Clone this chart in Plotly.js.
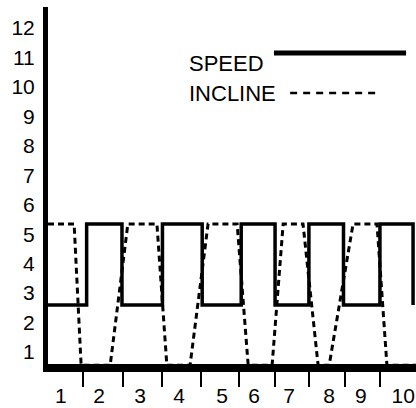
<!DOCTYPE html>
<html>
<head>
<meta charset="utf-8">
<script src="https://cdn.plot.ly/plotly-3.0.1.min.js"></script>
<style>
  html, body { margin: 0; padding: 0; background: #fff; }
  #chart { width: 416px; height: 408px; }
</style>
</head>
<body>
<div id="chart"></div>
<script>
// ---- data ----
const xLabels = ["1", "2", "3", "4", "5", "6", "7", "8", "9", "10"];
const xLabelPos = [0.85, 1.89, 3.0, 4.06, 5.23, 6.10, 7.05, 8.14, 9.0, 10.15];
const tickBounds = [1.45, 2.54, 3.60, 4.66, 5.70, 6.67, 7.59, 8.56, 9.51];
const yTicks = [1, 2, 3, 4, 5, 6, 7, 8, 9, 10, 11, 12];

// speed: step line (value holds until next x)
const speedX = [0.5, 1.55, 2.51, 3.61, 4.69, 5.75, 6.67, 7.59, 8.53, 9.52, 10.42];
const speedY = [2.6, 5.35, 2.6, 5.35, 2.6, 5.35, 2.6, 5.35, 2.6, 5.35, 2.6];

// incline: dashed line between top and bottom
const inclineX = [0.5, 1.21, 1.40, 2.19, 2.67, 3.46, 3.73, 4.36, 4.85, 5.64, 5.94, 6.59, 6.89, 7.43, 7.84, 8.14, 8.79, 9.44, 9.71, 10.5];
const inclineY = [5.35, 5.35, 0.55, 0.55, 5.35, 5.35, 0.55, 0.55, 5.35, 5.35, 0.55, 0.55, 5.35, 5.35, 0.55, 0.55, 5.35, 5.35, 0.55, 0.55];

const seriesNames = ["SPEED", "INCLINE"];

const FONT = "Liberation Sans, Arial, Helvetica, sans-serif";
const xRange = [0.5, 10.5];

const traces = [
  {
    x: speedX, y: speedY, name: seriesNames[0], type: "scatter", mode: "lines",
    line: { color: "#000", width: 3.5, shape: "hv" },
    hoverinfo: "skip"
  },
  {
    x: inclineX, y: inclineY, name: seriesNames[1], type: "scatter", mode: "lines",
    xaxis: "x2",
    line: { color: "#000", width: 3, dash: "6px,4px" },
    hoverinfo: "skip"
  }
];

const layout = {
  width: 416, height: 408,
  margin: { l: 48, r: 0, t: 7, b: 44, pad: 0 },
  paper_bgcolor: "#fff", plot_bgcolor: "#fff",
  showlegend: false,
  font: { family: FONT, color: "#000" },
  xaxis: {
    range: xRange, fixedrange: true,
    showline: true, linecolor: "#000", linewidth: 8,
    tickmode: "array", tickvals: tickBounds,
    ticks: "outside", ticklen: 15, tickwidth: 2, tickcolor: "#000",
    showticklabels: false, showgrid: false, zeroline: false
  },
  xaxis2: {
    overlaying: "x", anchor: "y", side: "bottom",
    range: xRange, fixedrange: true,
    tickmode: "array", tickvals: xLabelPos, ticktext: xLabels,
    ticks: "", showline: false, showgrid: false, zeroline: false,
    tickfont: { family: FONT, size: 21, color: "#000" },
    ticklabelstandoff: 17
  },
  yaxis: {
    range: [0.5925, 12.715], fixedrange: true,
    showline: true, linecolor: "#000", linewidth: 5,
    tickmode: "array", tickvals: yTicks, ticktext: yTicks.map(String),
    ticks: "", showgrid: false, zeroline: false,
    tickfont: { family: FONT, size: 21, color: "#000" },
    ticklabelstandoff: 4
  },
  annotations: [
    { text: seriesNames[0], xref: "paper", yref: "paper", x: 0.3777, y: 0.843,
      xanchor: "left", yanchor: "middle", showarrow: false,
      font: { family: FONT, size: 22, color: "#000" } },
    { text: seriesNames[1], xref: "paper", yref: "paper", x: 0.3777, y: 0.759,
      xanchor: "left", yanchor: "middle", showarrow: false,
      font: { family: FONT, size: 22, color: "#000" } }
  ],
  shapes: [
    { type: "line", xref: "paper", yref: "paper", x0: 0.614, x1: 0.973, y0: 0.871, y1: 0.871,
      line: { color: "#000", width: 5 } },
    { type: "line", xref: "paper", yref: "paper", x0: 0.658, x1: 0.902, y0: 0.759, y1: 0.759,
      line: { color: "#000", width: 2.5, dash: "7px,6px" } }
  ]
};

Plotly.newPlot("chart", traces, layout, { staticPlot: true, displayModeBar: false });
</script>
</body>
</html>
